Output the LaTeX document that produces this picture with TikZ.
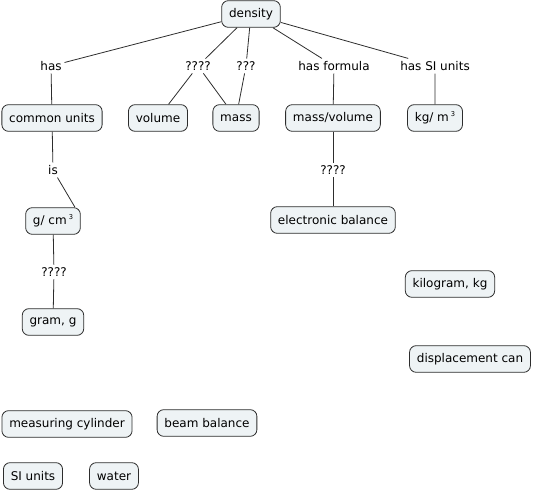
\documentclass[tikz,border=0pt]{standalone}
\usepackage{fontspec}
\setmainfont{DejaVu Sans}
\definecolor{conceptfill}{RGB}{238,243,245}
\definecolor{conceptline}{RGB}{45,45,45}
\tikzset{
	concept/.style={draw=conceptline, fill=conceptfill, rounded corners=5pt, line width=0.6pt, inner xsep=5.5pt, minimum height=20pt, font=\fontsize{9}{11}\selectfont},
	link/.style={inner sep=2pt, font=\fontsize{9}{11}\selectfont},
	conn/.style={line width=0.6pt, draw=conceptline}
}
\newcommand{\cubed}{\,\raisebox{0.7ex}{\fontsize{5}{5}\selectfont 3}}
\begin{document}
\begin{tikzpicture}[x=0.75pt, y=-0.75pt]
		\useasboundingbox (0,0) rectangle (533,491);
		\node[concept] (density) at (251, 14) {density};
		\node[link] (has) at (51, 66) {has};
		\node[link] (qa) at (198, 66) {????};
		\node[link] (qb) at (246, 66) {???};
		\node[link] (hasformula) at (334, 66) {has formula};
		\node[link] (hassi) at (435, 66) {has SI units};
		\node[concept] (common) at (52, 118) {common units};
		\node[concept] (volume) at (158, 118) {volume};
		\node[concept] (mass) at (236, 118) {mass};
		\node[concept] (massvol) at (333, 118) {mass/volume};
		\node[concept] (kgm) at (435, 118) {kg/ m\cubed};
		\node[link] (is) at (53, 170) {is};
		\node[concept] (gcm) at (53, 221) {g/ cm\cubed};
		\node[link] (qc) at (54, 272) {????};
		\node[concept] (gram) at (53, 322) {gram, g};
		\node[link] (qd) at (333, 170) {????};
		\node[concept] (elbal) at (333, 220) {electronic balance};
		\node[concept] (kilogram) at (450, 284) {kilogram, kg};
		\node[concept] (dispcan) at (470, 359) {displacement can};
		\node[concept] (cylinder) at (67, 424) {measuring cylinder};
		\node[concept] (beambal) at (207, 423) {beam balance};
		\node[concept] (siunits) at (33, 476) {SI units};
		\node[concept] (water) at (114, 476) {water};
		\draw[conn] (density) -- (has) -- (common);
		\draw[conn] (density) -- (qa) -- (volume);
		\draw[conn] (qa) -- (mass);
		\draw[conn] (density) -- (qb) -- (mass);
		\draw[conn] (density) -- (hasformula) -- (massvol);
		\draw[conn] (density) -- (hassi) -- (kgm);
		\draw[conn] (common) -- (is) -- (gcm.32);
		\draw[conn] (gcm) -- (qc) -- (gram);
		\draw[conn] (massvol) -- (qd) -- (elbal);
	\end{tikzpicture}
\end{document}
